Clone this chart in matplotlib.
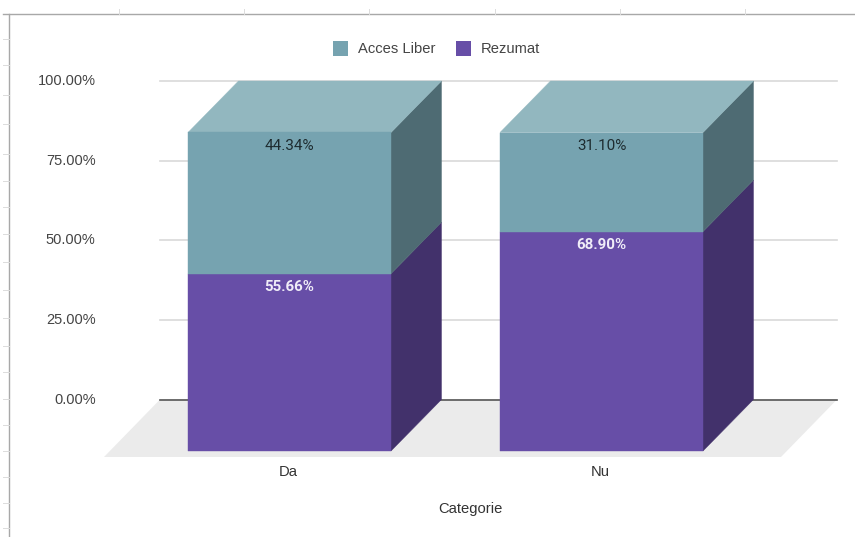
#!/usr/bin/env python3
"""Stacked 3D-looking 100% bars, drawn as plain polygons"""

import matplotlib
matplotlib.use('Agg')
import matplotlib.pyplot as plt
from matplotlib.patches import Polygon, Rectangle

AXIS_FONT = ['Liberation Sans', 'DejaVu Sans']
LABEL_FONT = ['Roboto', 'DejaVu Sans']

categories = ['Da', 'Nu']
rezumat = [55.66, 68.90]
acces_liber = [44.34, 31.10]
y_ticks = [0, 25, 50, 75, 100]
sheet_ticks_top = [119, 244, 369, 495, 620, 745]
sheet_ticks_left = [39, 65, 95, 124, 154, 181, 207, 234, 262, 290, 318, 346,
                    372, 399, 425, 451, 477, 503, 528]

# pixel geometry of the chart
W, H = 855, 537
PX_PER_CAT = 312.0
PX_PER_PCT = 3.185
X0_PX = 289.5
Y0_PX = 399.5
BAR_W = 203 / PX_PER_CAT
DX = 50.5 / PX_PER_CAT
DY = 51.5 / PX_PER_PCT

TEAL = ('#76a3b0', '#92b7bf', '#4e6b73')
PURPLE = ('#674ea7', '#8a76bd', '#42316b')


def x_data(px):
    return (px - X0_PX) / PX_PER_CAT


def y_data(py):
    return (Y0_PX - py) / PX_PER_PCT


def draw_box(ax, x, low, high, colors, top=False):
    """Front and side face of one segment, the value is measured on the back wall"""
    left, right = x - BAR_W / 2, x + BAR_W / 2
    lo, hi = low - DY, high - DY
    ax.add_patch(Polygon([(right, lo), (right + DX, low), (right + DX, high), (right, hi)],
                         fc=colors[2], ec=colors[2], lw=0.3, zorder=3))
    if top:
        ax.add_patch(Polygon([(left, hi), (left + DX, high), (right + DX, high), (right, hi)],
                             fc=colors[1], ec=colors[1], lw=0.3, zorder=3))
    ax.add_patch(Rectangle((left, lo), BAR_W, high - low, fc=colors[0], ec=colors[0], lw=0.3,
                           zorder=4))


fig = plt.figure(figsize=(W / 100, H / 100), dpi=100)
ax = fig.add_axes([0, 0, 1, 1])
ax.set_xlim(x_data(0), x_data(W))
ax.set_ylim(y_data(H), y_data(0))
ax.axis('off')

# spreadsheet frame behind the chart
sheet = dict(color='#a8a8a8', lw=1.0, zorder=1)
ax.plot([x_data(3), x_data(W)], [y_data(14), y_data(14)], **sheet)
ax.plot([x_data(9), x_data(9)], [y_data(14), y_data(H)], **sheet)
for px in sheet_ticks_top:
    ax.plot([x_data(px), x_data(px)], [y_data(9), y_data(14)], color='#dcdcdc', lw=0.7, zorder=1)
for py in sheet_ticks_left:
    ax.plot([x_data(3), x_data(9)], [y_data(py), y_data(py)], color='#dcdcdc', lw=0.7, zorder=1)

# floor
ax.add_patch(Polygon([(x_data(104), y_data(457)), (x_data(160), 0), (x_data(837), 0),
                      (x_data(781), y_data(457))], fc='#ebebeb', ec='none', zorder=1))

# gridlines and y labels
for t in y_ticks:
    ax.plot([x_data(160), x_data(837)], [t, t], color='#555555' if t == 0 else '#d9d9d9',
            lw=1.2, zorder=2)
    ax.text(x_data(95.5), t, f'{t:.2f}%', ha='right', va='center', fontsize=10.5,
            color='#444444', family=AXIS_FONT)

# bars
for i, name in enumerate(categories):
    draw_box(ax, i, 0, rezumat[i], PURPLE)
    draw_box(ax, i, rezumat[i], rezumat[i] + acces_liber[i], TEAL, top=True)
    ax.annotate(f'{rezumat[i]:.2f}%', (i, rezumat[i] - DY), xytext=(0, -9.5),
                textcoords='offset points', ha='center', va='center', fontsize=10.8,
                fontweight='bold', color='#f0edf8', family=LABEL_FONT, zorder=5)
    ax.annotate(f'{acces_liber[i]:.2f}%', (i, 100 - DY), xytext=(0, -9.5),
                textcoords='offset points', ha='center', va='center', fontsize=11,
                color='#1e2c30', family=LABEL_FONT, zorder=5)
    ax.text(i - 1 / PX_PER_CAT, y_data(471.5), name, ha='center', va='center', fontsize=10.6,
            color='#333333', family=AXIS_FONT)

ax.text(x_data(470), y_data(509.5), 'Categorie', ha='center', va='center', fontsize=10.6,
        color='#333333', family=AXIS_FONT)

# legend
for px, label, color in [(333, 'Acces Liber', TEAL[0]), (456, 'Rezumat', PURPLE[0])]:
    ax.add_patch(Rectangle((x_data(px), y_data(56)), 15 / PX_PER_CAT, 15 / PX_PER_PCT,
                           fc=color, ec='none', zorder=3))
    ax.text(x_data(px + 25), y_data(49), label, ha='left', va='center', fontsize=10.6,
            color='#444444', family=AXIS_FONT)

fig.savefig('out.png', dpi=100, facecolor='white')
